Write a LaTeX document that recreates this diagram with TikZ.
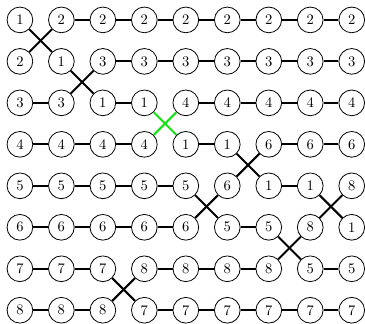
\documentclass[tikz,border=0pt]{standalone}
\definecolor{swapgreen}{RGB}{20,225,20}
\begin{document}
\begin{tikzpicture}[x=1cm,y=-1cm,
  vnode/.style={circle,draw,line width=0.55pt,minimum size=0.62cm,inner sep=0pt,fill=white},
  wire/.style={line width=1.4pt},
  greenwire/.style={wire,draw=swapgreen}]
\useasboundingbox (-0.48,-0.48) rectangle (8.32,7.32);
\foreach \vals [count=\r from 0] in {
  {1,2,2,2,2,2,2,2,2},
  {2,1,3,3,3,3,3,3,3},
  {3,3,1,1,4,4,4,4,4},
  {4,4,4,4,1,1,6,6,6},
  {5,5,5,5,5,6,1,1,8},
  {6,6,6,6,6,5,5,8,1},
  {7,7,7,8,8,8,8,5,5},
  {8,8,8,7,7,7,7,7,7}} {
  \foreach \v [count=\c from 0] in \vals {
    \node[vnode] (n-\r-\c) at (\c,\r) {\v};
  }
}
% horizontal wires
\foreach \cols [count=\r from 0] in {
  {1,2,3,4,5,6,7},
  {2,3,4,5,6,7},
  {0,2,4,5,6,7},
  {0,1,2,4,6,7},
  {0,1,2,3,6},
  {0,1,2,3,5},
  {0,1,3,4,5,7},
  {0,1,3,4,5,6,7}} {
  \foreach \c in \cols {
    \pgfmathtruncatemacro{\cn}{\c+1}
    \draw[wire] (n-\r-\c) -- (n-\r-\cn);
  }
}
% crossings: column c to c+1, rows r and r+1
\foreach \c/\r in {0/0,1/1,5/3,4/4,7/4,6/5,2/6} {
  \pgfmathtruncatemacro{\cn}{\c+1}
  \pgfmathtruncatemacro{\rn}{\r+1}
  \draw[wire] (n-\r-\c) -- (n-\rn-\cn);
  \draw[wire] (n-\rn-\c) -- (n-\r-\cn);
}
\draw[greenwire] (n-2-3) -- (n-3-4);
\draw[greenwire] (n-3-3) -- (n-2-4);
\end{tikzpicture}
\end{document}
